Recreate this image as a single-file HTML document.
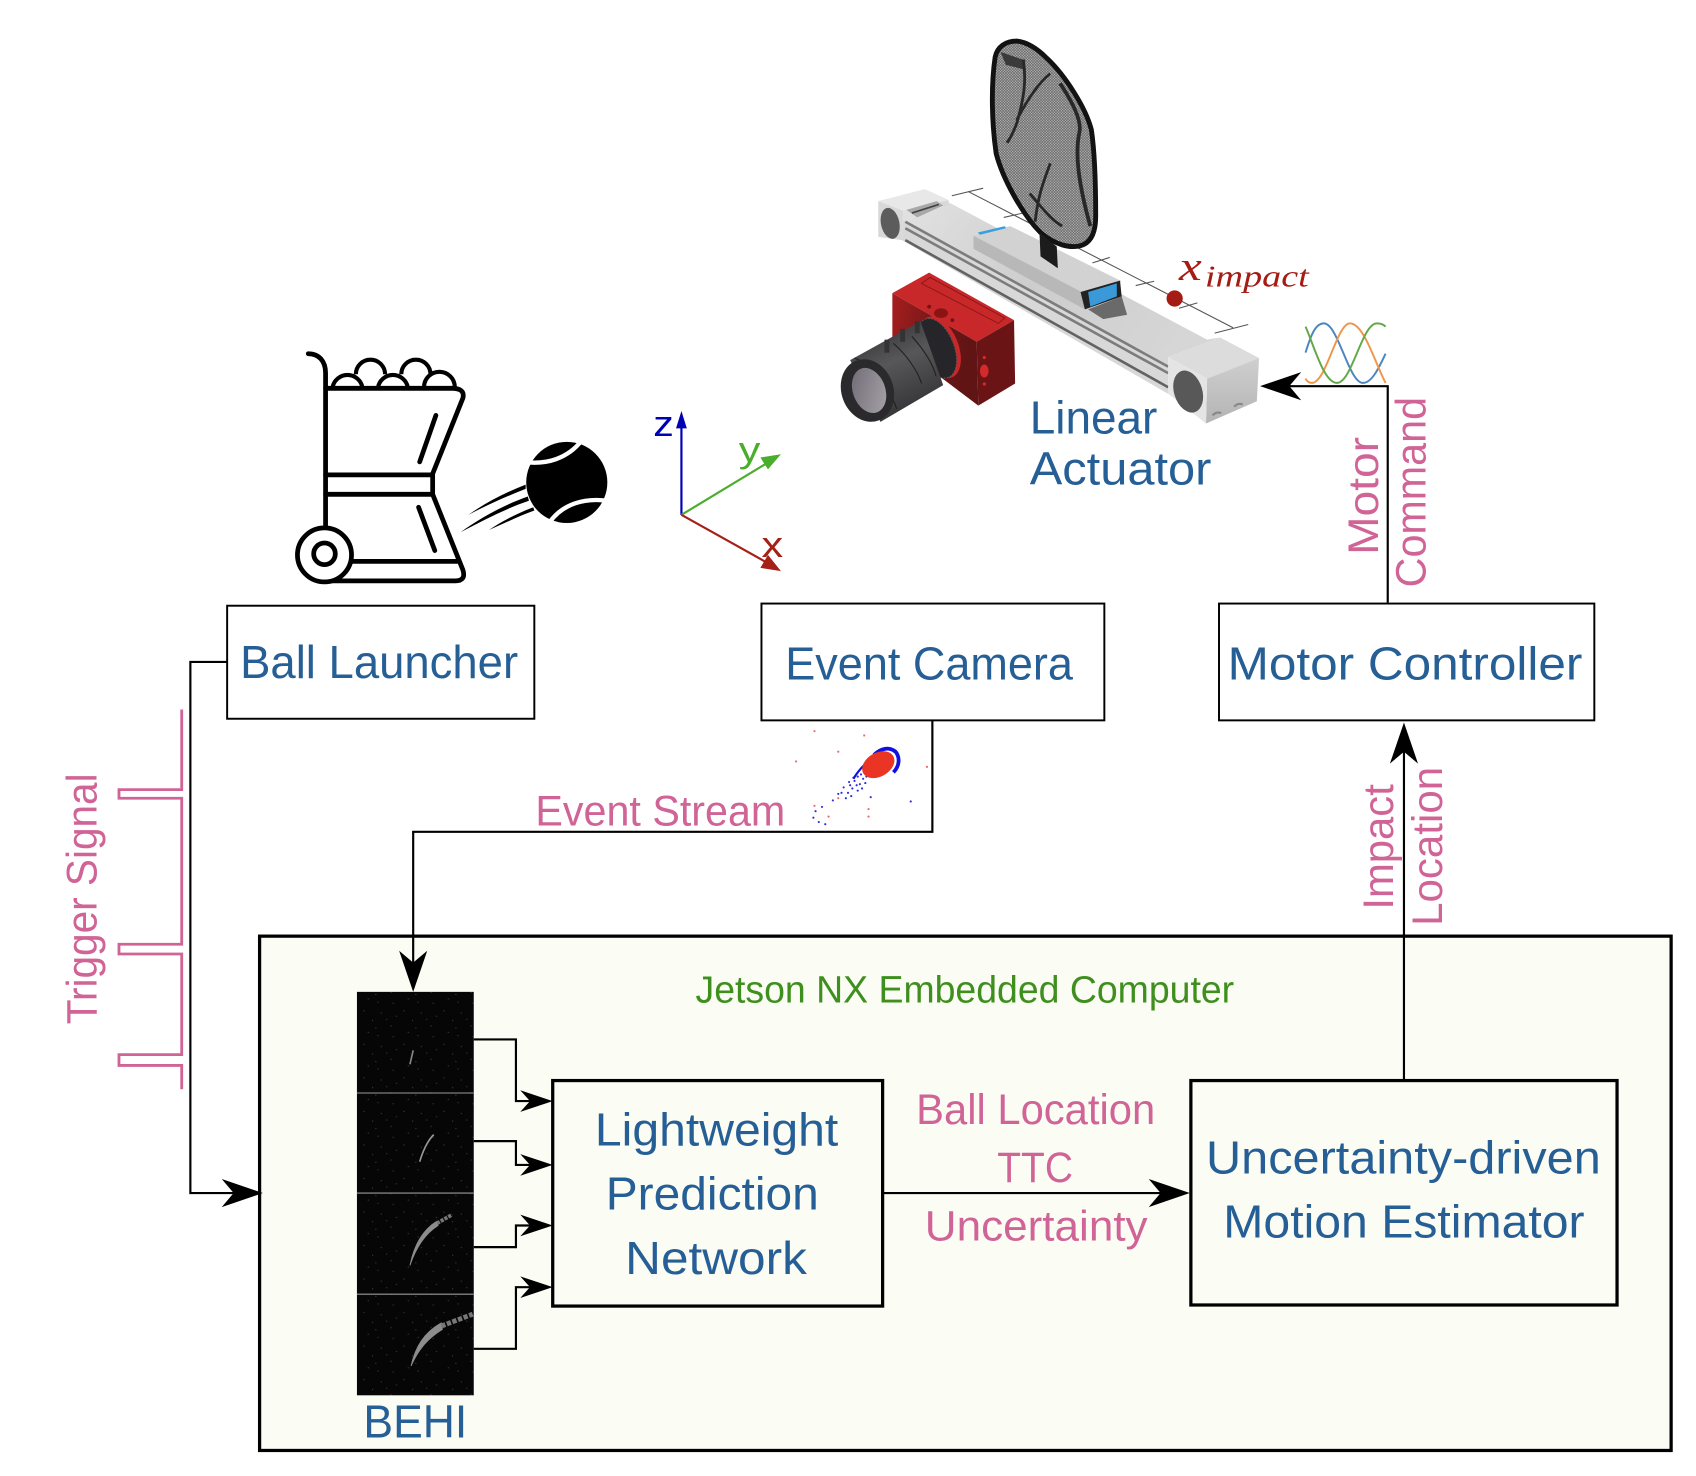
<!DOCTYPE html>
<html lang="en">
<head>
<meta charset="utf-8">
<title>Ball catching system diagram</title>
<style>
html,body{margin:0;padding:0;background:#fff;width:1696px;height:1476px;overflow:hidden}
svg{position:absolute;left:0;top:0;display:block}
text{font-family:"Liberation Sans",sans-serif}
.blue{fill:#265f96;font-size:43px}
.pink{fill:#d06496;font-size:39px}
.wire{fill:none;stroke:#000;stroke-width:2}
.box{fill:#fff;stroke:#000;stroke-width:1.8}
.inner{fill:#fbfcf4;stroke:#000;stroke-width:3}
.icon{fill:none;stroke:#000;stroke-width:4.4;stroke-linecap:round;stroke-linejoin:round}
</style>
</head>
<body>
<svg width="1696" height="1476" viewBox="0 0 1568 1364.600" xmlns="http://www.w3.org/2000/svg">
<defs>
<polygon id="head-s" points="0,0 -30,-10 -21,0 -30,10" fill="#000"/>
<polygon id="head-b" points="0,0 -38,-13 -27,0 -38,13" fill="#000"/>
<pattern id="speckle" width="37" height="31" patternUnits="userSpaceOnUse">
<rect width="37" height="31" fill="#060606"/>
<g fill="#3e3e3e">
<rect x="3" y="4" width="1" height="1"/><rect x="11" y="13" width="1" height="1"/><rect x="19" y="6" width="1" height="1"/>
<rect x="28" y="18" width="1" height="1"/><rect x="33" y="9" width="1" height="1"/><rect x="7" y="24" width="1" height="1"/>
<rect x="16" y="27" width="1" height="1"/><rect x="24" y="12" width="1" height="1"/><rect x="30" y="28" width="1" height="1"/>
<rect x="14" y="20" width="1" height="1"/>
</g>
</pattern>
<pattern id="mesh" width="2.500" height="2.500" patternUnits="userSpaceOnUse">
<rect width="2.500" height="2.500" fill="#bdbdbd"/>
<path d="M0,0L2.500,2.500M2.500,0L0,2.500" stroke="#5a5a5a" stroke-width="0.550"/>
</pattern>
<linearGradient id="rail" x1="0" y1="0" x2="1" y2="0.500">
<stop offset="0" stop-color="#e2e2e2"/><stop offset="0.5" stop-color="#cdcdcd"/><stop offset="1" stop-color="#d6d6d6"/>
</linearGradient>
<linearGradient id="cam-front" x1="0" y1="0" x2="1" y2="0.300">
<stop offset="0" stop-color="#a81e1e"/><stop offset="0.6" stop-color="#6e1616"/><stop offset="1" stop-color="#601414"/>
</linearGradient>
<linearGradient id="lens-body" x1="0.300" y1="0" x2="0.700" y2="1">
<stop offset="0" stop-color="#333336"/><stop offset="0.4" stop-color="#57575a"/><stop offset="1" stop-color="#2e2e30"/>
</linearGradient>
<linearGradient id="glass" x1="0" y1="0" x2="1" y2="1">
<stop offset="0" stop-color="#6d6872"/><stop offset="1" stop-color="#aaa5ac"/>
</linearGradient>
<linearGradient id="block-right" x1="0" y1="0" x2="0" y2="1">
<stop offset="0" stop-color="#cfcfcf"/><stop offset="1" stop-color="#b4b4b4"/>
</linearGradient>
</defs>

<g>
<path class="icon" d="M285,327 C295,327 301,334 301,345 V486"/>
<path class="icon" d="M301,359 H418 Q430,359 428,368 L400,438 V457 L428,527 Q431,537 421,537 H300"/>
<path class="icon" d="M301,439 H400 M301,457 H400 M325,519 H423 M403,384 L388,427 M387,469 L402,509"/>
<path fill="none" stroke="#000" stroke-width="3.800" d="M307.500,358 A14,14 0 0 1 335,358 M329,346 A13.500,13.500 0 0 1 356,346 M349.500,358 A14,14 0 0 1 377,358 M371,346 A13.500,13.500 0 0 1 398,346 M392,358 A14,14 0 0 1 420.500,358"/>
<circle cx="300" cy="513" r="25" fill="#fff" stroke="#000" stroke-width="4.400"/>
<circle cx="300" cy="512" r="10" fill="#fff" stroke="#000" stroke-width="4.400"/>
</g>
<g>
<circle cx="524" cy="446" r="37.500" fill="#000"/>
<path d="M484,427 C505,430 525,424 538,407 M508,483 C520,466 540,460 562,463" fill="none" stroke="#fff" stroke-width="4"/>
<path d="M433,476 C450,464 468,455 486,448 L486,452 C468,459 450,467 433,476Z" fill="#000"/>
<path d="M426,492 C445,478 468,466 488,459 L489,463 C468,470 447,481 426,492Z" fill="#000"/>
<path d="M452,490 C465,481 480,474 493,469 L494,472 C480,477 466,484 452,490Z" fill="#000"/>
</g>

<g fill="none" stroke-width="2">
<line x1="630" y1="476" x2="630" y2="385" stroke="#0000b4"/>
<polygon points="630,380 625,396 635,396" fill="#0000b4" stroke="none"/>
<line x1="630" y1="476" x2="716" y2="424" stroke="#4aad2c"/>
<polygon points="722,420 703,423 710,434" fill="#4aad2c" stroke="none"/>
<line x1="630" y1="476" x2="716" y2="524" stroke="#a52018"/>
<polygon points="722,528 703,525 710,513" fill="#a52018" stroke="none"/>
</g>
<text x="604" y="403" font-size="33" fill="#0000b4" textLength="19" lengthAdjust="spacingAndGlyphs">z</text>
<text x="683" y="427" font-size="33" fill="#4aad2c" textLength="20" lengthAdjust="spacingAndGlyphs">y</text>
<text x="704" y="515" font-size="33" fill="#a52018" textLength="20" lengthAdjust="spacingAndGlyphs">x</text>

<g>
<polygon points="877,187 1116,314 1128,312 1080,330 1080,364 834,222 835,195" fill="url(#rail)"/>
<polygon points="835,204 1080,337 1080,364 834,222" fill="#d8d8d8"/>
<path d="M837,205 L1080,339 M837,211 L1080,345" stroke="#7c7c7c" stroke-width="2.400" fill="none"/>
<path d="M837,222 L1080,358" stroke="#626262" stroke-width="2.400" fill="none"/>
<polygon points="812,186 855,175 877,185 877,190 835,195 834,222 812,219" fill="#d8d8d8"/>
<polygon points="812,186 855,175 877,185 835,195" fill="#e8e8e8"/>
<polygon points="838,194 866,186 872,190 848,201" fill="#a8a8a8"/>
<path d="M843,197 L868,189" stroke="#444" stroke-width="1.500"/>
<ellipse cx="823" cy="206.500" rx="8.500" ry="14.500" fill="#5c5c5c" transform="rotate(-12 823 206.500)"/>
<polygon points="1080,330 1128,312 1164,331 1116,350" fill="#dcdcdc"/>
<polygon points="1116,350 1164,331 1162,371 1115,391.500" fill="url(#block-right)"/>
<polygon points="1080,330 1116,350 1115,391.500 1080,364" fill="#e4e4e4"/>
<ellipse cx="1098.500" cy="362" rx="13" ry="20" fill="#585858" transform="rotate(-18 1098.500 362)"/>
<path d="M1121,384 q4,-4 8,-2 M1141,376 q4,-4 8,-2" stroke="#888" stroke-width="2" fill="none"/>
<polygon points="1006,286 1037,274 1042,291 1020,295" fill="#6a6a6a"/>
<polygon points="900,218 934,209 1037,260 1000,270" fill="#d2d2d2"/>
<polygon points="900,218 1000,270 1003,286 900,230" fill="#b8b8b8"/>
<polygon points="999,270 1035.500,259.500 1037,274 1003,286" fill="#222"/>
<polygon points="1006,270 1032.500,262 1032.500,274 1008,283.500" fill="#3a9ad9"/>
<polygon points="904,215 929,209 930,211 906,217" fill="#3aa0dc"/>
</g>
<g fill="none" stroke="#555" stroke-width="1">
<path d="M895,177 L1140,303 M880,181 L909,174 M928,201 L950,196 M1010,243 L1026,238 M1050,264 L1067,260 M1090,285 L1107,280 M1123,308 L1154,300"/>
</g>
<g>
<path d="M940,38 C930,38 922,43 920,53 C916,80 917,115 921,142 C927,165 945,198 962,215 C975,226 990,231 1002,226 C1010,222 1013,212 1013,200 C1013,170 1012,140 1009,120 C1004,100 985,70 968,54 C960,46 950,39 940,38Z" fill="url(#mesh)" stroke="#121212" stroke-width="4.500"/>
<path d="M925,48 L948,56 L946,64 L930,60Z" fill="#3a3a3a"/>
<path d="M946,55 C949,74 947,90 940,114 C937,122 934,128 931,132 M971,68 C962,75 952,88 940,111 M971,151 C966,165 960,178 957,205 M952,179 C962,190 970,202 982,209" stroke="#282828" stroke-width="2.600" fill="none"/>
<path d="M980,77 C992,95 1000,112 998,122 C994,140 996,166 1008,209" stroke="#282828" stroke-width="3.500" fill="none"/>
<polygon points="961,215 977,228 978,248 962,237" fill="#1c1c1c"/>
</g>
<circle cx="1086" cy="276" r="7.500" fill="#a51c14"/>
<text fill="#a51c14" style="font-family:'Liberation Serif',serif;font-style:italic"><tspan x="1090" y="259" font-size="38" textLength="21" lengthAdjust="spacingAndGlyphs">x</tspan><tspan x="1114" y="265" font-size="28" textLength="96" lengthAdjust="spacingAndGlyphs">impact</tspan></text>

<g>
<polygon points="859,252 937.500,296 903,316 825,271" fill="#c8282a"/>
<polygon points="852,262 860,256.500 929,294 923,299" fill="none" stroke="#8a1616" stroke-width="0.800"/>
<polygon points="903,316 937.500,296 938.500,354.500 904.500,375" fill="#6a1416"/>
<polygon points="825,271 903,316 904.500,375 825,315" fill="url(#cam-front)"/>
<ellipse cx="870" cy="289.500" rx="6.500" ry="4.500" fill="#8a1414"/>
<circle cx="859" cy="283.500" r="1.800" fill="#7a1212"/>
<circle cx="880.500" cy="296" r="1.800" fill="#7a1212"/>
<ellipse cx="910" cy="343" rx="4" ry="6" fill="#d42a2a"/>
<circle cx="910" cy="330.500" r="1.500" fill="#d42a2a"/>
<circle cx="910" cy="355" r="1.500" fill="#d42a2a"/>
<ellipse cx="869" cy="321" rx="17" ry="30" fill="#c8282a" transform="rotate(-22 869 321)"/>
<ellipse cx="866" cy="322" rx="16" ry="29" fill="#26262a" stroke="#55555a" stroke-width="1" stroke-dasharray="1.500 1.500" transform="rotate(-22 866 322)"/>
<polygon points="786,333 851,297 872,356 814,390" fill="url(#lens-body)"/>
<path d="M826,317.500 C838,328 848,342 852,354.500 M843,311 C853,322 862,335 865.500,348 M790,331 C802,335 822,356 829,378" fill="none" stroke="#1c1c1c" stroke-width="0.900"/>
<ellipse cx="802" cy="361" rx="24" ry="29.500" fill="#2a2a2c" transform="rotate(-20 802 361)"/>
<ellipse cx="803.500" cy="361" rx="15" ry="21.500" fill="url(#glass)" transform="rotate(-20 803.500 361)"/>
<path d="M820,314 V326 M834.500,304 V316 M848,297 V308" stroke="#333" stroke-width="4.500"/>
</g>

<text class="blue" x="952" y="401" textLength="118" lengthAdjust="spacingAndGlyphs">Linear</text>
<text class="blue" x="952" y="448" textLength="168" lengthAdjust="spacingAndGlyphs">Actuator</text>

<g fill="none" stroke-width="1.800">
<path stroke="#4a86c0" d="M1207,326 C1212,310 1216,299 1224,299 C1237,299 1247,354 1260,354 C1268,354 1274,342 1281,327"/>
<path stroke="#f0964a" d="M1207,350 Q1209,354 1213,354 C1226,354 1236,299 1248,299 C1261,299 1271,335 1281,354"/>
<path stroke="#62a84a" d="M1207,302 C1215,320 1224,354 1236,354 C1250,354 1259,299 1273,299 Q1278,299 1281,302"/>
</g>

<rect class="box" x="210" y="560" width="284" height="104.500"/>
<text class="blue" x="222" y="627" textLength="257" lengthAdjust="spacingAndGlyphs">Ball Launcher</text>
<rect class="box" x="704" y="558" width="317" height="108"/>
<text class="blue" x="726" y="628" textLength="266" lengthAdjust="spacingAndGlyphs">Event Camera</text>
<rect class="box" x="1127" y="558" width="347" height="108"/>
<text class="blue" x="1135" y="628" textLength="328" lengthAdjust="spacingAndGlyphs">Motor Controller</text>

<g>
<g fill="#2a2ae0">
<circle cx="760" cy="746" r="1"/><circle cx="754" cy="750" r="1"/><circle cx="752" cy="756" r="1"/><circle cx="757" cy="760" r="1"/><circle cx="763" cy="762" r="1"/><circle cx="770" cy="740" r="1"/><circle cx="775" cy="734" r="1"/><circle cx="780" cy="728" r="1"/><circle cx="784" cy="733" r="1"/><circle cx="786" cy="726" r="1"/><circle cx="790" cy="722" r="1"/><circle cx="795" cy="725" r="1"/><circle cx="793" cy="718" r="1"/><circle cx="798" cy="720" r="1"/><circle cx="787" cy="736" r="1"/><circle cx="805" cy="737" r="1"/><circle cx="842" cy="741" r="1"/>
<circle cx="792" cy="726" r="1"/><circle cx="796" cy="716" r="1"/><circle cx="800" cy="724" r="1"/><circle cx="788" cy="729" r="1"/><circle cx="793" cy="731" r="1"/><circle cx="801" cy="718" r="1"/><circle cx="785" cy="723" r="1"/><circle cx="797" cy="729" r="1"/><circle cx="789" cy="719" r="1"/><circle cx="778" cy="733" r="1"/><circle cx="782" cy="738" r="1"/>
</g>
<g fill="#e86a6a">
<circle cx="753" cy="745" r="1"/><circle cx="766" cy="755" r="1"/><circle cx="775" cy="695" r="1"/><circle cx="736" cy="704" r="1"/><circle cx="753" cy="676" r="1"/><circle cx="799" cy="680" r="1"/><circle cx="857" cy="709" r="1"/><circle cx="803" cy="748" r="1"/><circle cx="803" cy="755" r="1"/><circle cx="775" cy="738" r="1"/>
</g>
<path d="M808,698 C814,692 822,690 828,695 C832,700 832,708 826,714" fill="none" stroke="#1010e0" stroke-width="3.500"/>
<path d="M789,720 C795,710 802,704 810,698" fill="none" stroke="#1010e0" stroke-width="2"/>
<ellipse cx="812" cy="707" rx="16" ry="11" fill="#ea3424" transform="rotate(-30 812 707)"/>
</g>

<rect class="inner" x="240" y="865.500" width="1305" height="475.500"/>
<text x="643" y="927" font-size="35" fill="#3f8f1f" textLength="498" lengthAdjust="spacingAndGlyphs">Jetson NX Embedded Computer</text>

<g>
<rect x="330" y="917" width="108" height="373" fill="url(#speckle)"/>
<path d="M330,1010.500 H438 M330,1103 H438 M330,1196.500 H438" stroke="#9a9a9a" stroke-width="1"/>
<path d="M382,971 L379,984" stroke="#888" stroke-width="1.500" fill="none"/>
<path d="M401,1049 C395,1055 391,1064 388,1074" stroke="#999" stroke-width="1.500" fill="none"/>
<path d="M404,1129 C391,1137 383,1150 379,1170 C385,1152 394,1140 405,1133Z" fill="#8c8c8c" stroke="#8c8c8c" stroke-width="0.800"/>
<path d="M404,1131 L418,1123" stroke="#777" stroke-width="3.500" stroke-dasharray="3 1" fill="none"/>
<path d="M408,1223 C392,1232 384,1245 380,1263 C387,1247 396,1237 409,1229Z" fill="#8c8c8c" stroke="#8c8c8c" stroke-width="0.800"/>
<path d="M408,1226 L437,1215" stroke="#777" stroke-width="4.500" stroke-dasharray="4 1.500" fill="none"/>
</g>
<text class="blue" x="336" y="1329" textLength="96" lengthAdjust="spacingAndGlyphs">BEHI</text>

<rect class="inner" x="511" y="999" width="305" height="208.500"/>
<text class="blue" x="550" y="1059" textLength="225" lengthAdjust="spacingAndGlyphs">Lightweight</text>
<text class="blue" x="560" y="1118" textLength="197" lengthAdjust="spacingAndGlyphs">Prediction</text>
<text class="blue" x="578" y="1178" textLength="168" lengthAdjust="spacingAndGlyphs">Network</text>

<rect class="inner" x="1101" y="999" width="394" height="207.500"/>
<text class="blue" x="1115" y="1085" textLength="365" lengthAdjust="spacingAndGlyphs">Uncertainty-driven</text>
<text class="blue" x="1131" y="1144" textLength="334" lengthAdjust="spacingAndGlyphs">Motion Estimator</text>

<g>
<path class="wire" d="M438,961 H477 V1018 H505"/><use href="#head-s" transform="translate(511,1018)"/>
<path class="wire" d="M438,1055 H477 V1077 H505"/><use href="#head-s" transform="translate(511,1077)"/>
<path class="wire" d="M438,1153 H477 V1133 H505"/><use href="#head-s" transform="translate(511,1133)"/>
<path class="wire" d="M438,1247 H477 V1190 H505"/><use href="#head-s" transform="translate(511,1190)"/>
</g>
<g>
<path class="wire" d="M210,612 H176 V1103 H232"/><use href="#head-b" transform="translate(243,1103)"/>
</g>
<g>
<path class="wire" d="M862,666 V769 H382 V905"/><use href="#head-b" transform="translate(382,917) rotate(90)"/>
</g>
<g>
<path class="wire" d="M1283,557 V357 H1180"/><use href="#head-b" transform="translate(1165,357) rotate(180)"/>
</g>
<g>
<path class="wire" d="M1298,998 V680"/><use href="#head-b" transform="translate(1298,668) rotate(-90)"/>
</g>
<g>
<path class="wire" d="M816,1103 H1088"/><use href="#head-b" transform="translate(1100,1103)"/>
</g>

<polyline fill="none" stroke="#d06496" stroke-width="2.600" points="168,656 168,730 110,730 110,738 168,738 168,873 110,873 110,882 168,882 168,975 110,975 110,985 168,985 168,1007"/>
<text class="pink" transform="translate(89,947) rotate(-90)" textLength="232" lengthAdjust="spacingAndGlyphs">Trigger Signal</text>
<text class="pink" x="495" y="763" textLength="231" lengthAdjust="spacingAndGlyphs">Event Stream</text>
<text class="pink" transform="translate(1274,513) rotate(-90)" textLength="109" lengthAdjust="spacingAndGlyphs">Motor</text>
<text class="pink" transform="translate(1318,543) rotate(-90)" textLength="176" lengthAdjust="spacingAndGlyphs">Command</text>
<text class="pink" transform="translate(1288,841) rotate(-90)" textLength="116" lengthAdjust="spacingAndGlyphs">Impact</text>
<text class="pink" transform="translate(1333,856) rotate(-90)" textLength="147" lengthAdjust="spacingAndGlyphs">Location</text>
<text class="pink" x="847" y="1039" textLength="221" lengthAdjust="spacingAndGlyphs">Ball Location</text>
<text class="pink" x="922" y="1093" textLength="70" lengthAdjust="spacingAndGlyphs">TTC</text>
<text class="pink" x="855" y="1147" textLength="206" lengthAdjust="spacingAndGlyphs">Uncertainty</text>
</svg>
</body>
</html>
